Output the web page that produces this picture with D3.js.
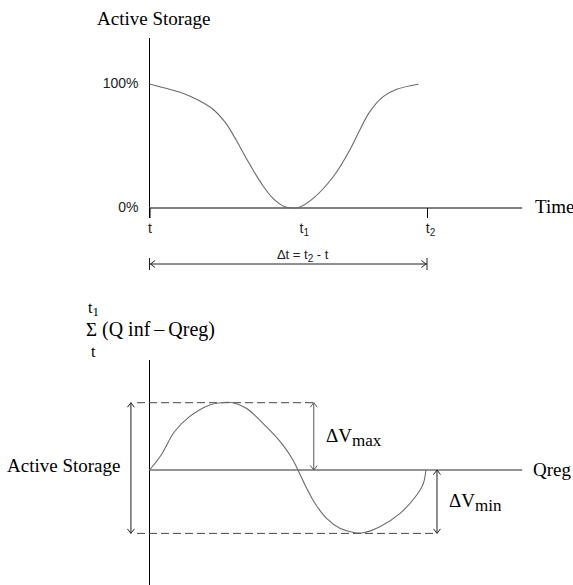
<!DOCTYPE html>
<html>
<head>
<meta charset="utf-8">
<script src="https://cdn.jsdelivr.net/npm/d3@7"></script>
<style>
  html, body { margin: 0; padding: 0; background: #fff; }
  svg { display: block; }
</style>
</head>
<body>
<script>
// ---------- DATA ----------
// Top panel: active storage (% of capacity) over time (t = 0, t2 = 100)
const storageTime = [0, 7.2, 12, 18, 22.9, 27.1, 31.3, 34.9, 40.3, 44.5, 48.7, 51.7, 53.5, 59, 66.2, 72.2, 75.8, 79.4, 84.2, 89.1, 96.9];
const storagePct  = [100, 95.7, 92.5, 86.5, 79.6, 69.6, 54.6, 39.9, 19.9, 7.8, 1.1, 0, 0.2, 7.8, 25.2, 46.8, 62.9, 77.7, 89.8, 95.7, 99.8];
const pctTicks = [0, 100];
const pctTickLabels = ["0%", "100%"];
const timeTicks = [0, 54.5, 100];
const timeTickLabels = [["t", ""], ["t", "1"], ["t", "2"]];
const timeMax = 134.3;

// Bottom panel: cumulative sum of (Qinf - Qreg), as % of active storage
const flowTime = [0, 4.2, 9.0, 14.4, 21.7, 25.9, 30.1, 34.9, 42.1, 48.1, 51.7, 53.5, 56.6, 59.6, 63.8, 68.6, 74, 77, 83, 90.3, 96.3, 98.7, 99.6];
const cumDeviation = [0, 11.5, 29.3, 40.8, 49.8, 51.5, 51.5, 47.2, 33.2, 19.1, 7.7, 0, -13.8, -25.5, -37, -44.6, -48, -48, -43.4, -33.2, -19.1, -10.2, 0];
const deltaVmax = 51.5;
const deltaVmin = -48.5;
const annotationTime = { activeStorage: -6.7, dVmax: 59.2, dVmin: 103.6 };

// ---------- LAYOUT ----------
const SERIF = '"Liberation Serif", "Times New Roman", serif';
const SANS = '"Liberation Sans", Arial, sans-serif';
const W = 573, H = 585;
const svg = d3.select("body").append("svg").attr("width", W).attr("height", H);

const x = d3.scaleLinear().domain([0, 100]).range([149.5, 427]);

function serifText(px, py, size) {
  return svg.append("text").attr("x", px).attr("y", py)
    .style("font-family", SERIF).style("font-size", size + "px").attr("fill", "#000");
}
function sansText(sel, size) {
  return sel.style("font-family", SANS).style("font-size", size + "px").attr("fill", "#222");
}

// ===== Top panel =====
const yTop = d3.scaleLinear().domain([0, 100]).range([208, 84]);

serifText(97, 25, 19).text("Active Storage");

// vertical axis
svg.append("line").attr("x1", x(0)).attr("x2", x(0)).attr("y1", 38).attr("y2", 218)
  .attr("stroke", "#000").attr("stroke-width", 1);

// y labels via axis
const yAxisG = svg.append("g").attr("transform", `translate(${x(0)},0)`)
  .call(d3.axisLeft(yTop).tickValues(pctTicks).tickSize(0).tickPadding(11)
    .tickFormat((d, i) => pctTickLabels[i]));
yAxisG.attr("font-family", null).attr("font-size", null);
yAxisG.select(".domain").remove();
sansText(yAxisG.selectAll("text"), 14).attr("dy", "0.25em");

// horizontal time axis
svg.append("line").attr("x1", x(0)).attr("x2", x(timeMax)).attr("y1", yTop(0)).attr("y2", yTop(0))
  .attr("stroke", "#808080").attr("stroke-width", 2);

const xAxisG = svg.append("g").attr("transform", `translate(0,${yTop(0)})`)
  .call(d3.axisBottom(x).tickValues(timeTicks).tickSize(10).tickPadding(3).tickFormat(""));
xAxisG.attr("font-family", null).attr("font-size", null);
xAxisG.select(".domain").remove();
xAxisG.selectAll(".tick line").attr("stroke", (d, i) => i === 1 ? "none" : "#000");
xAxisG.selectAll(".tick text").remove();
xAxisG.selectAll(".tick").each(function (d, i) {
  const t = sansText(d3.select(this).append("text"), 14)
    .attr("y", 25).attr("x", i > 0 ? 3 : 0).attr("text-anchor", "middle");
  t.append("tspan").text(timeTickLabels[i][0]);
  if (timeTickLabels[i][1]) {
    t.append("tspan").attr("dy", 3).style("font-size", "10px").text(timeTickLabels[i][1]);
  }
});

serifText(535, 213, 19).text("Time");

// storage curve
const topLine = d3.line().x((d, i) => x(storageTime[i])).y(d => yTop(d)).curve(d3.curveCatmullRom.alpha(0.5));
svg.append("path").datum(storagePct).attr("d", topLine)
  .attr("fill", "none").attr("stroke", "#6a6a6a").attr("stroke-width", 1.1);

// Δt arrow
function chevron(px, py, dir, size) {
  const s = size || 4, l = (size || 4) * 1.3;
  if (dir === "left")  return `M${px + l},${py - s}L${px},${py}L${px + l},${py + s}`;
  if (dir === "right") return `M${px - l},${py - s}L${px},${py}L${px - l},${py + s}`;
  if (dir === "up")    return `M${px - s},${py + l}L${px},${py}L${px + s},${py + l}`;
  return `M${px - s},${py - l}L${px},${py}L${px + s},${py - l}`;
}
const dtY = 264;
const dtG = svg.append("g").attr("stroke", "#222").attr("fill", "none").attr("stroke-width", 1);
dtG.append("line").attr("x1", x(0)).attr("x2", x(100)).attr("y1", dtY).attr("y2", dtY);
dtG.append("line").attr("x1", x(0)).attr("x2", x(0)).attr("y1", dtY - 6).attr("y2", dtY + 6);
dtG.append("line").attr("x1", x(100)).attr("x2", x(100)).attr("y1", dtY - 6).attr("y2", dtY + 6);
dtG.append("path").attr("d", chevron(x(0) + 1, dtY, "left", 3.5));
dtG.append("path").attr("d", chevron(x(100) - 1, dtY, "right", 3.5));
const dtText = sansText(svg.append("text"), 13).attr("x", x(55.2)).attr("y", 259)
  .attr("text-anchor", "middle");
dtText.append("tspan").text("\u0394t = t");
dtText.append("tspan").attr("dy", 3).style("font-size", "10px").text("2");
dtText.append("tspan").attr("dy", -3).text(" - t");

// ===== Bottom panel =====
const yBot = d3.scaleLinear().domain([0, deltaVmax]).range([470, 402.7]);

// axis label Σ (one text element, tspans positioned)
const sig = serifText(88, 313, 16);
sig.append("tspan").attr("x", 88).attr("y", 313).text("t");
sig.append("tspan").attr("dy", 3).style("font-size", "13px").text("1");
sig.append("tspan").attr("x", 86).attr("y", 336).style("font-size", "19px").text("\u03A3");
sig.append("tspan").attr("x", 102).attr("y", 336).style("font-size", "20px").text("(Q inf\u2009\u2013\u2009Qreg)");
sig.append("tspan").attr("x", 91).attr("y", 357).text("t");

// vertical axis
svg.append("line").attr("x1", x(0)).attr("x2", x(0)).attr("y1", 360).attr("y2", 585)
  .attr("stroke", "#000").attr("stroke-width", 1);

// Qreg line
svg.append("line").attr("x1", x(0)).attr("x2", x(timeMax)).attr("y1", yBot(0)).attr("y2", yBot(0))
  .attr("stroke", "#707070").attr("stroke-width", 1.5);
serifText(533, 476, 19).text("Qreg");

// dashed reference lines
svg.append("line").attr("x1", 137).attr("x2", x(annotationTime.dVmax))
  .attr("y1", yBot(deltaVmax)).attr("y2", yBot(deltaVmax))
  .attr("stroke", "#444").attr("stroke-dasharray", "8,4");
svg.append("line").attr("x1", 137).attr("x2", x(annotationTime.dVmin))
  .attr("y1", yBot(deltaVmin)).attr("y2", yBot(deltaVmin))
  .attr("stroke", "#444").attr("stroke-dasharray", "8,4");

// cumulative curve
const botLine = d3.line().x((d, i) => x(flowTime[i])).y(d => yBot(d)).curve(d3.curveCatmullRom.alpha(0.5));
svg.append("path").datum(cumDeviation).attr("d", botLine)
  .attr("fill", "none").attr("stroke", "#6a6a6a").attr("stroke-width", 1.1);

// arrows
function vArrow(xp, y1, y2, color) {
  const g = svg.append("g").attr("stroke", color).attr("fill", "none").attr("stroke-width", 1);
  g.append("line").attr("x1", xp).attr("x2", xp).attr("y1", y1).attr("y2", y2);
  g.append("path").attr("d", chevron(xp, y1, "up", 3.5));
  g.append("path").attr("d", chevron(xp, y2, "down", 3.5));
}
vArrow(x(annotationTime.activeStorage), yBot(deltaVmax), yBot(deltaVmin), "#222");
vArrow(x(annotationTime.dVmax), yBot(deltaVmax), yBot(0), "#555");
vArrow(x(annotationTime.dVmin), yBot(0), yBot(deltaVmin), "#222");

serifText(7, 472, 19).text("Active Storage");

const dvMax = serifText(326, 442, 19);
dvMax.append("tspan").text("\u0394V");
dvMax.append("tspan").attr("dy", 4).style("font-size", "17px").text("max");

const dvMin = serifText(449, 507, 19);
dvMin.append("tspan").text("\u0394V");
dvMin.append("tspan").attr("dy", 4).style("font-size", "17px").text("min");
</script>
</body>
</html>
